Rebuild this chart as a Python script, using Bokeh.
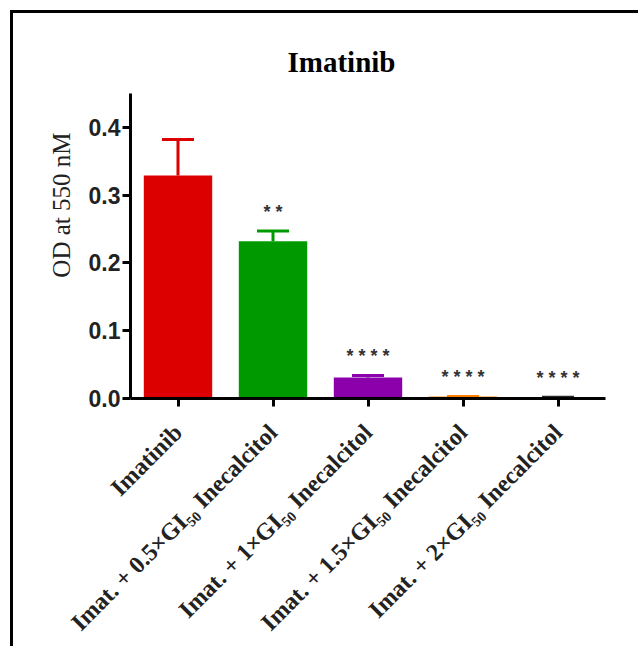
import math
from bokeh.plotting import figure
from bokeh.models import (FactorRange, Range1d, SingleIntervalTicker, NumeralTickFormatter,
                          ColumnDataSource, Title)
from bokeh.core.properties import value
from bokeh.embed import file_html
from bokeh.resources import INLINE

# ---- data ----
categories = ["Imatinib",
              "Imat. + 0.5×GI₅₀ Inecalcitol",
              "Imat. + 1×GI₅₀ Inecalcitol",
              "Imat. + 1.5×GI₅₀ Inecalcitol",
              "Imat. + 2×GI₅₀ Inecalcitol"]
means = [0.329, 0.232, 0.031, 0.003, 0.002]
errors = [0.053, 0.015, 0.003, 0.0, 0.0]
stars = ["", "* *", "* * * *", "* * * *", "* * * *"]
colors = ["#DD0000", "#009A00", "#8C00AC", "#FF8000", "#2A2A2A"]
title_text = "Imatinib"
y_label = "OD at 550 nM"

upper = [m + e for m, e in zip(means, errors)]
src = ColumnDataSource(dict(cat=categories, mean=means, upper=upper,
                            stars=stars, color=colors))

p = figure(width=628, height=636, x_range=FactorRange(factors=categories, range_padding=0),
           y_range=Range1d(0, 0.45), output_backend="svg", toolbar_location=None,
           min_border_left=117, min_border_right=36, min_border_top=80, min_border_bottom=251)
p.outline_line_color = None
p.xgrid.grid_line_color = None
p.ygrid.grid_line_color = None
p.background_fill_color = "white"
p.border_fill_color = "white"
p.styles = {"border-top": "3px solid black", "border-left": "3px solid black",
            "margin-left": "10px", "margin-top": "10px"}

# title
p.title.text = title_text
p.title.align = "left"
p.title.offset = 157
p.title.text_font = "Liberation Serif"
p.title.text_font_style = "bold"
p.title.text_font_size = "29px"
p.title.text_color = "black"
p.title.standoff = 32

# bars
p.vbar(x="cat", top="mean", bottom=0, width=0.72, source=src,
       fill_color="color", line_color=None)
# error bars (upper only)
p.segment(x0="cat", y0="mean", x1="cat", y1="upper", source=src,
          line_color="color", line_width=3)
p.scatter(x="cat", y="upper", marker="dash", size=32, source=src,
          line_color="color", line_width=3)
# significance stars
p.text(x="cat", y="upper", text="stars", source=src, y_offset=-19,
       text_align="center", text_baseline="alphabetic",
       text_font=value("Liberation Sans"), text_font_style="bold",
       text_font_size="18px", text_color="#333333")

# axes
for ax in (p.xaxis[0], p.yaxis[0]):
    ax.axis_line_width = 3
    ax.axis_line_color = "black"
    ax.major_tick_line_width = 3
    ax.major_tick_line_color = "black"
    ax.major_tick_out = 8
    ax.major_tick_in = 0
    ax.minor_tick_line_color = None

p.yaxis.ticker = SingleIntervalTicker(interval=0.1)
p.yaxis.formatter = NumeralTickFormatter(format="0.0")
p.yaxis.major_label_text_font = "Liberation Sans"
p.yaxis.major_label_text_font_style = "bold"
p.yaxis.major_label_text_font_size = "23px"
p.yaxis.major_label_text_color = "#222222"
p.yaxis.major_label_standoff = 2

p.xaxis.major_label_orientation = math.pi / 4
p.xaxis.major_label_text_font = "Liberation Serif"
p.xaxis.major_label_text_font_style = "bold"
p.xaxis.major_label_text_font_size = "24px"
p.xaxis.major_label_text_color = "#222222"
p.xaxis.major_label_standoff = 22

# y label as a side title (positioned from the frame top)
p.add_layout(Title(text=y_label, align="right", offset=39, vertical_align="bottom",
                   standoff=22, text_font="Liberation Serif", text_font_style="normal",
                   text_font_size="25px", text_color="#222222"), "left")

open("out.html", "w").write(file_html(p, INLINE))
